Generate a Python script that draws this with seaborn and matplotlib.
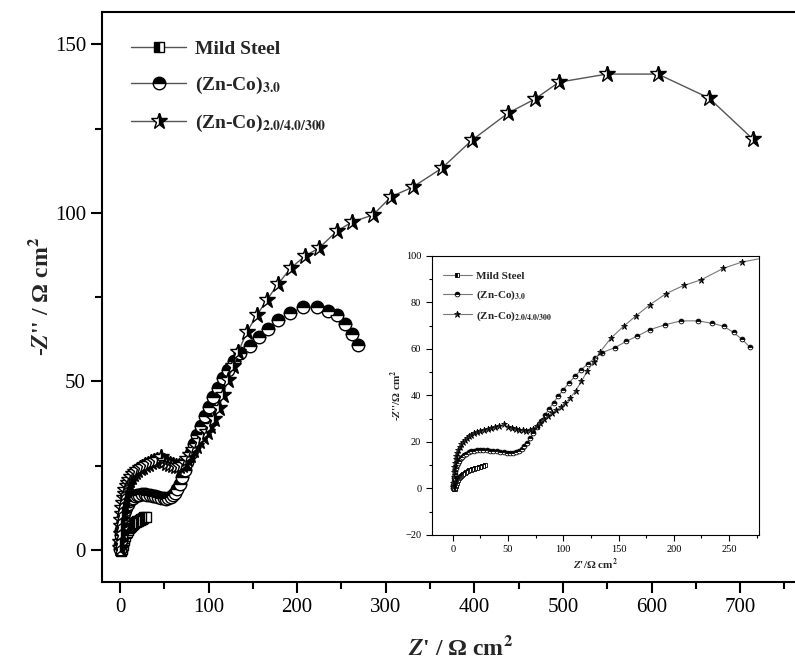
import pandas as pd
import seaborn as sns
import matplotlib.pyplot as plt
from matplotlib.ticker import MultipleLocator

# Nyquist data (Z' , -Z'')
ms_x = [0.8, 1.0, 1.3, 1.7, 2.1, 2.6, 3.1, 3.7, 4.3, 5.0, 5.8, 6.7, 7.6, 8.6, 9.7,
        10.9, 12.1, 13.4, 14.8, 16.2, 17.6, 19.1, 20.6, 22.1, 23.6, 25.0, 26.4, 27.6, 29.5]
ms_y = [0.3, 0.0, -0.2, -0.1, 0.3, 0.9, 1.6, 2.3, 3.0, 3.7, 4.3, 4.9, 5.4, 5.9, 6.4,
        6.8, 7.2, 7.5, 7.8, 8.1, 8.3, 8.5, 8.7, 8.9, 9.1, 9.3, 9.5, 9.7, 9.9]

zc3_x = [0.3, 0.5, 0.8, 1.2, 1.7, 2.3, 3.0, 3.9, 4.9, 6.0, 7.3, 8.8, 10.5, 12.4, 14.5,
         16.8, 19.3, 22.0, 24.8, 27.7, 30.7, 33.8, 36.9, 40.0, 43.1, 46.2, 49.2, 52.0,
         54.7, 57.3, 59.8, 62.3, 64.8, 67.4, 70.1, 73.0, 76.2, 79.6, 83.2, 87.1, 91.2,
         95.6, 100.2, 105.1, 110.4, 116.0, 122.0, 128.5, 135.4, 146.7, 157.0, 167.0,
         178.3, 191.9, 206.5, 222.0, 234.8, 245.0, 254.0, 261.8, 268.6]
zc3_y = [0.2, 1.5, 3.0, 4.5, 6.0, 7.4, 8.7, 9.9, 11.0, 12.0, 12.9, 13.7, 14.4, 15.0, 15.5,
         15.9, 16.2, 16.4, 16.5, 16.5, 16.4, 16.3, 16.1, 15.9, 15.7, 15.5, 15.3, 15.2,
         15.3, 15.6, 16.2, 17.0, 18.2, 19.7, 21.6, 23.8, 26.2, 28.8, 31.4, 34.1, 36.9,
         39.7, 42.5, 45.3, 48.1, 50.9, 53.5, 56.0, 58.4, 60.5, 63.2, 65.5,
         68.2, 70.3, 72.0, 72.0, 70.9, 69.7, 67.0, 64.0, 60.8]

zc2_x = [0.3, 0.5, 0.8, 1.1, 1.5, 2.0, 2.6, 3.3, 4.1, 5.1, 6.2, 7.5, 9.0, 10.7, 12.6,
         14.7, 17.0, 19.5, 22.2, 25.1, 28.2, 31.5, 35.0, 38.6, 42.3, 46.0, 49.7, 53.3,
         56.8, 60.2, 63.5, 66.7, 69.8, 72.9, 76.0, 79.2, 82.5, 86.0, 89.7, 93.6, 97.7,
         102.0, 106.5, 111.3, 116.4, 121.8, 127.6, 133.2, 143.3, 154.6, 165.9, 178.3,
         193.0, 208.8, 224.6, 244.9, 261.8, 285.6, 305.9, 330.7, 363.4, 397.3, 437.9,
         468.4, 495.5, 549.7, 607.2, 664.8, 714.4]
zc2_y = [0.5, 2.5, 4.8, 7.0, 9.0, 10.8, 12.5, 14.0, 15.4, 16.7, 17.9, 19.0, 20.0, 20.9, 21.7,
         22.4, 23.1, 23.7, 24.2, 24.7, 25.2, 25.6, 26.0, 26.4, 26.8, 27.5, 26.3, 25.8,
         25.4, 25.1, 24.9, 24.8, 25.1, 25.7, 26.9, 28.3, 29.7, 31.0, 32.2, 33.5, 35.0,
         36.8, 39.0, 42.0, 46.0, 50.5, 54.5, 58.6, 64.7, 69.7, 74.2, 78.9,
         83.7, 87.2, 89.6, 94.6, 97.3, 99.4, 104.8, 107.7, 113.3, 121.6, 129.6,
         133.8, 138.8, 141.2, 141.2, 134.1, 121.9]

labels = ['Mild Steel', r'(Zn-Co)$_{\mathbf{3.0}}$', r'(Zn-Co)$_{\mathbf{2.0/4.0/300}}$']
series = [(ms_x, ms_y), (zc3_x, zc3_y), (zc2_x, zc2_y)]
markers = ['s', 'o', '*']
fills = ['left', 'top', 'right']
sizes = [7, 9, 12]

sns.set_style('ticks')
plt.rcParams['font.family'] = ['Liberation Serif', 'DejaVu Serif']
plt.rcParams['mathtext.fontset'] = 'stix'


def draw(ax, scale, lc, lw, mew):
    for (x, y), lab, mk, fs, sz in zip(series, labels, markers, fills, sizes):
        df = pd.DataFrame({'x': x, 'y': y})
        sns.lineplot(data=df, x='x', y='y', ax=ax, sort=False, estimator=None,
                     color=lc, lw=lw, marker=mk, fillstyle=fs, markersize=sz * scale,
                     markerfacecolor='black', markerfacecoloralt='white',
                     markeredgecolor='black', markeredgewidth=mew, label=lab,
                     legend=False)


fig = plt.figure(figsize=(7.95, 6.66), dpi=100)
ax = fig.add_axes([0.1283, 0.1261, 0.903, 0.8563])
draw(ax, 1.0, '#555555', 1.0, 1.0)
ax.set_xlim(-20.3, 790)
ax.set_ylim(-9.5, 159.7)
ax.xaxis.set_major_locator(MultipleLocator(100))
ax.xaxis.set_minor_locator(MultipleLocator(50))
ax.yaxis.set_major_locator(MultipleLocator(50))
ax.yaxis.set_minor_locator(MultipleLocator(25))
ax.tick_params(which='both', direction='out', width=1.5, labelsize=15, colors='black')
ax.tick_params(which='major', length=8)
ax.tick_params(which='minor', length=5)
for s in ax.spines.values():
    s.set_linewidth(1.5)
    s.set_color('black')
ax.set_xlabel(r"$\mathbfit{Z}$' / Ω cm$^{\mathbf{2}}$", fontsize=17, fontweight='bold', labelpad=14)
ax.set_ylabel(r"-$\mathbfit{Z}$'' / Ω cm$^{\mathbf{2}}$", fontsize=17, fontweight='bold', labelpad=1)
ax.legend(loc='upper left', bbox_to_anchor=(0.03, 0.963), borderaxespad=0, frameon=False,
          prop={'weight': 'bold', 'size': 14}, handlelength=2.8, labelspacing=0.85,
          handletextpad=0.5)

# inset
axin = fig.add_axes([0.543, 0.1967, 0.4117, 0.4194])
draw(axin, 0.38, '#777777', 0.8, 0.6)
axin.set_xlim(-19, 277)
axin.set_ylim(-20, 100)
axin.xaxis.set_major_locator(MultipleLocator(50))
axin.xaxis.set_minor_locator(MultipleLocator(25))
axin.yaxis.set_major_locator(MultipleLocator(20))
axin.yaxis.set_minor_locator(MultipleLocator(10))
axin.tick_params(which='both', direction='out', width=0.8, labelsize=7.5, colors='black')
axin.tick_params(which='major', length=4)
axin.tick_params(which='minor', length=2)
for s in axin.spines.values():
    s.set_linewidth(0.8)
    s.set_color('black')
axin.set_xlabel(r"$\mathbfit{Z}$'/Ω cm$^{\mathbf{2}}$", fontsize=8, fontweight='bold', labelpad=2)
axin.set_ylabel(r"-$\mathbfit{Z}$''/Ω cm$^{\mathbf{2}}$", fontsize=8, fontweight='bold', labelpad=1)
axin.legend(loc='upper left', bbox_to_anchor=(0.02, 0.96), borderaxespad=0, frameon=False,
            prop={'weight': 'bold', 'size': 8}, handlelength=2.6, labelspacing=0.65,
            handletextpad=0.4)

fig.savefig('out.png', dpi=100)
